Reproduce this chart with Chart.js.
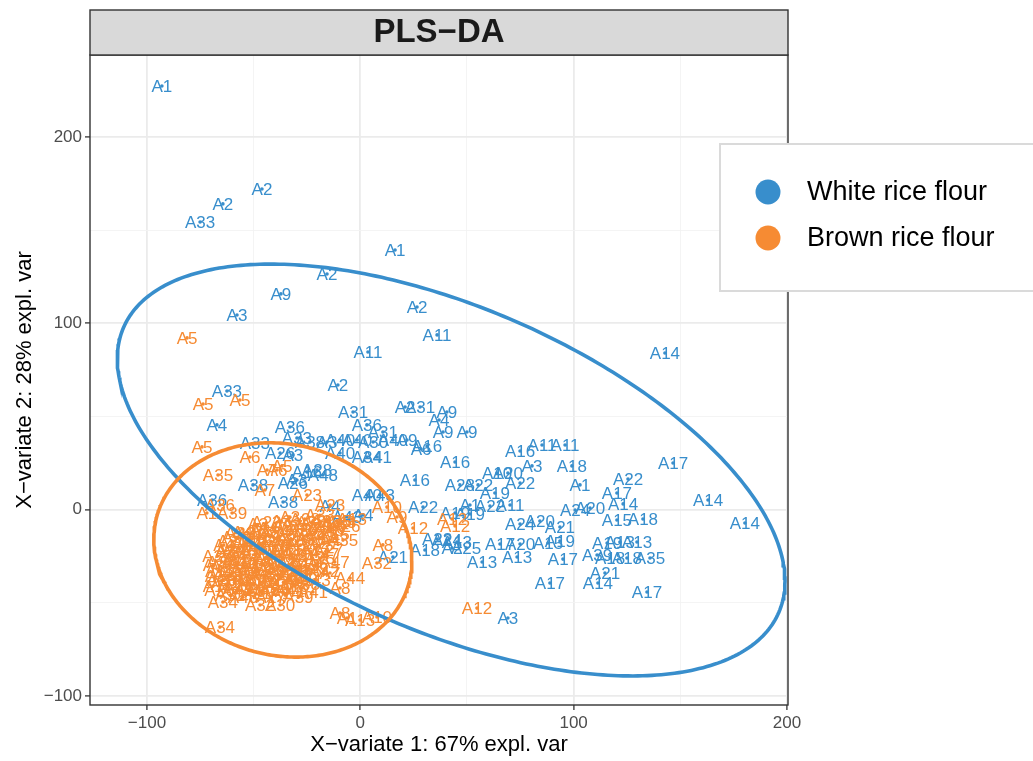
<!DOCTYPE html>
<html>
<head>
<meta charset="utf-8">
<title>PLS-DA</title>
<script src="https://cdn.jsdelivr.net/npm/chart.js@4.4.1/dist/chart.umd.min.js"></script>
<style>
  html, body { margin: 0; padding: 0; background: #ffffff; }
  #wrap { width: 1033px; height: 761px; }
</style>
</head>
<body>
<div id="wrap"><canvas id="plsda" width="1033" height="761"></canvas></div>
<script>
// Sample scores on the first two PLS-DA components
const whiteNames = ['A1','A2','A2','A33','A1','A2','A9','A2','A3','A11','A11','A14','A33','A2','A31','A2','A31','A9','A4','A9','A9','A16','A6','A16','A16','A11','A11','A3','A18','A17','A16','A28','A22','A10','A20','A22','A19','A1','A22','A17','A14','A14','A14','A15','A18','A20','A24','A11','A1','A22','A22','A19','A19','A24','A20','A21','A13','A25','A2','A13','A13','A17','A20','A15','A19','A17','A39','A18','A13','A19','A13','A35','A18','A21','A14','A17','A17','A3','A21','A18','A22','A24','A4','A33','A36','A36','A31','A33','A38','A3','A40','A40','A30','A40','A9','A26','A3','A40','A34','A41','A38','A16','A28','A48','A3','A26','A38','A40','A43','A36','A43','A4','A4'];
const whiteX = [-93.0,-46.1,-64.4,-75.1,16.3,-15.6,-37.2,26.6,-57.8,36.0,3.6,142.8,-62.5,-10.5,-3.4,21.0,28.0,40.6,36.9,38.8,50.0,31.3,28.5,44.4,74.9,85.2,96.0,80.5,99.2,146.6,25.6,46.7,55.2,64.1,69.2,74.9,63.1,103.0,125.5,120.3,123.2,163.0,180.3,120.3,132.5,107.7,100.7,70.2,51.4,60.8,29.4,44.4,51.4,74.9,84.2,93.6,45.3,49.6,43.0,57.1,73.5,65.5,74.9,88.0,93.6,95.0,111.0,117.1,121.7,115.7,129.7,135.8,125.0,114.7,111.4,88.9,134.4,69.2,15.3,30.3,36.0,40.6,-67.2,-49.4,-33.0,3.1,10.6,-29.7,-23.6,-15.6,-9.5,-1.5,6.0,15.3,21.9,-37.6,-31.6,-9.5,3.1,7.8,-50.3,-25.0,-20.3,-17.5,-29.7,-31.6,-36.2,3.1,9.2,-69.5,-6.2,1.3,-14.2];
const whiteY = [227.4,172.1,164.1,154.4,139.4,126.5,115.8,108.8,104.5,93.8,84.6,84.1,63.7,66.9,52.4,55.1,55.1,52.4,48.1,41.7,41.7,34.2,32.6,25.6,31.5,34.7,34.7,23.5,23.5,25.1,15.9,13.3,13.3,19.7,19.7,14.3,9.0,13.3,16.5,9.0,3.1,5.2,-7.1,-5.5,-5.0,0.9,-0.2,2.5,2.5,2.0,1.4,-1.8,-2.3,-7.7,-6.1,-9.3,-17.3,-20.6,-20.6,-28.1,-25.4,-18.4,-18.4,-17.9,-16.8,-26.5,-24.3,-25.9,-17.3,-17.9,-17.3,-25.9,-25.9,-34.0,-39.3,-39.3,-44.2,-58.1,-25.4,-21.6,-15.7,-16.3,45.5,35.8,44.4,45.5,41.7,38.5,36.3,36.3,37.4,37.4,36.3,37.4,37.4,30.4,29.4,30.4,28.3,28.3,13.3,20.2,21.3,18.6,15.9,14.3,4.1,7.9,7.9,5.2,-3.9,-2.8,2.0];

const brownNames = ['A5','A5','A5','A5','A6','A35','A7','A6','A5','A7','A23','A23','A36','A39','A1','A10','A9','A12','A12','A12','A8','A32','A12','A35','A4','A7','A44','A8','A41','A30','A32','A34','A8','A1','A13','A10','A34','A39',
  'A3','A28','A33','A25','A13',
  'A3','A42','A27','A29','A24','A46','A26',
  'A39','A40','A19','A22','A31','A37','A43','A15',
  'A4','A2','A45','A16','A20','A11','A38','A17','A27',
  'A37','A33','A14','A21','A9','A47','A48','A15','A25','A47',
  'A3','A18','A26','A1','A40','A24','A6','A45','A36','A42',
  'A2','A29','A19','A44','A13','A31','A11','A46','A43',
  'A1','A22','A41','A20','A28','A16','A18','A38',
  'A32','A48','A21','A17','A14','A39',
  'A23','A3','A28','A38','A33','A43',
  'A45','A2','A24','A37','A30','A3','A48',
  'A21','A44','A12','A26','A4','A19','A16','A27',
  'A3','A35','A9','A31','A42','A13','A25','A7','A47',
  'A33','A1','A41','A18','A38','A22','A30','A15','A5',
  'A11','A36','A39','A24','A29','A17','A40','A46',
  'A20','A14','A43','A32','A2','A34','A45',
  'A26','A47','A10','A30','A28','A41'];
const brownX = [-81.2,-73.7,-56.4,-74.2,-51.7,-66.7,-43.7,-39.0,-36.7,-44.7,-25.0,-14.2,-65.8,-60.1,-71.9,12.5,17.2,24.7,44.4,43.0,10.6,7.8,54.7,-8.1,-14.2,-14.2,-4.8,-9.5,-22.2,-37.6,-47.0,-64.4,-9.5,-6.2,-0.1,7.8,-65.8,-56.4,
  -33,-26,-19,-11,-4,
  -48,-41,-34,-27,-21,-14,-7,
  -58,-51,-45,-38,-32,-25,-19,-12,
  -64,-57,-51,-46,-40,-34,-28,-21,-15,
  -67,-61,-55,-49,-44,-38,-32,-26,-19,-12,
  -69,-63,-58,-52,-46,-41,-35,-29,-22,-17,
  -68,-62,-56,-50,-45,-39,-33,-27,-21,
  -69,-63,-57,-51,-45,-39,-31,-26,
  -61,-55,-49,-42,-35,-29,
  -44,-37,-30,-23,-16,-9,
  -53,-47,-40,-33,-27,-21,-15,
  -60,-53,-48,-42,-36,-30,-23,-17,
  -63,-58,-52,-46,-41,-35,-29,-23,-17,
  -65,-60,-55,-49,-43,-38,-32,-26,-20,
  -66,-60,-54,-48,-42,-37,-31,-25,
  -65,-59,-53,-47,-42,-36,-29,
  -66,-58,-52,-47,-40,-33];
const brownY = [92.2,56.7,58.9,33.7,28.3,18.6,21.3,21.3,23.5,10.6,7.9,2.5,2.5,-1.8,-1.8,1.4,-3.9,-9.8,-8.7,-5.0,-18.9,-28.6,-52.8,-16.3,-16.3,-34.0,-36.7,-42.0,-44.2,-51.1,-51.1,-49.5,-55.4,-58.1,-59.2,-57.6,-63.0,-12.5,
  -4,-5,-3,-6,-5,
  -8,-10,-9,-11,-8,-10,-9,
  -15,-13,-15,-14,-16,-14,-15,-13,
  -19,-21,-18,-20,-19,-21,-19,-21,-22,
  -25,-23,-26,-24,-26,-24,-25,-27,-26,-28,
  -30,-31,-29,-31,-29,-32,-30,-32,-30,-33,
  -36,-35,-37,-34,-36,-35,-37,-35,-38,
  -41,-40,-42,-40,-42,-40,-41,-40,
  -46,-47,-45,-47,-45,-47,
  -7,-6,-8,-7,-6,-7,
  -12,-11,-12,-13,-11,-12,-11,
  -17,-18,-16,-17,-18,-17,-16,-18,
  -22,-23,-22,-21,-23,-22,-24,-23,-24,
  -28,-27,-29,-28,-27,-28,-29,-30,-29,
  -33,-34,-33,-32,-34,-33,-34,-33,
  -38,-39,-38,-39,-38,-39,-38,
  -43,-44,-43,-44,-43,-44];

// Confidence ellipses: centre x, centre y, half-width, half-height, correlation
const whiteEllipse = [42.6, 21.3, 156.5, 110.5, -0.54];
const brownEllipse = [-36.3, -21.6, 60.5, 57.5, -0.10];

const tickValues = [-100, -50, 0, 50, 100, 150, 200];
const groupNames = ['White rice flour', 'Brown rice flour'];

const BLUE = '#388ECC';
const ORANGE = '#F68B33';
const FONT = '"Liberation Sans", Arial, Helvetica, sans-serif';

function toPoints(xs, ys) { return xs.map((x, i) => ({ x: x, y: ys[i] })); }

function ellipsePath(p) {
  const [cx, cy, rx, ry, rho] = p;
  const s = Math.sqrt(1 - rho * rho);
  const out = [];
  for (let k = 0; k <= 360; k++) {
    const t = 2 * Math.PI * k / 360;
    out.push({ x: cx + rx * Math.cos(t), y: cy + ry * (rho * Math.cos(t) + s * Math.sin(t)) });
  }
  return out;
}

const isMajor = v => Math.abs(v % 100) < 1e-9;
const fmt = v => (v < 0 ? '\u2212' + Math.abs(v) : String(v));

// Sample names written at each score
const sampleLabels = {
  id: 'sampleLabels',
  afterDatasetDraw(chart, args) {
    const ds = chart.data.datasets[args.index];
    if (!ds.names) return;
    const ctx = chart.ctx;
    ctx.save();
    ctx.font = '17px ' + FONT;
    ctx.textAlign = 'center';
    ctx.textBaseline = 'middle';
    ctx.fillStyle = ds.borderColor;
    args.meta.data.forEach((el, i) => ctx.fillText(ds.names[i], el.x, el.y + 1));
    ctx.restore();
  }
};

// Panel frame, title strip, axis titles and legend
const decorations = {
  id: 'decorations',
  afterDraw(chart) {
    const ctx = chart.ctx;
    const a = chart.chartArea;
    ctx.save();
    ctx.strokeStyle = '#333333';
    ctx.lineWidth = 1.4;
    ctx.strokeRect(a.left, a.top, a.right - a.left, a.bottom - a.top);

    ctx.fillStyle = '#D9D9D9';
    ctx.fillRect(a.left, 10, a.right - a.left, a.top - 10);
    ctx.strokeRect(a.left, 10, a.right - a.left, a.top - 10);
    ctx.fillStyle = '#1A1A1A';
    ctx.font = 'bold 33px ' + FONT;
    ctx.textAlign = 'center';
    ctx.textBaseline = 'middle';
    ctx.fillText('PLS\u2212DA', (a.left + a.right) / 2, 33);

    ctx.fillStyle = '#000000';
    ctx.font = '22px ' + FONT;
    ctx.fillText('X\u2212variate 1: 67% expl. var', (a.left + a.right) / 2, 745);
    ctx.save();
    ctx.translate(25, (a.top + a.bottom) / 2);
    ctx.rotate(-Math.PI / 2);
    ctx.fillText('X\u2212variate 2: 28% expl. var', 0, 0);
    ctx.restore();

    // legend
    ctx.fillStyle = '#FFFFFF';
    ctx.fillRect(720, 144, 330, 147);
    ctx.strokeStyle = '#DADADA';
    ctx.lineWidth = 2;
    ctx.strokeRect(720, 144, 330, 147);
    const colors = [BLUE, ORANGE];
    const rows = [192, 238];
    ctx.font = '27px ' + FONT;
    ctx.textAlign = 'left';
    groupNames.forEach((name, i) => {
      ctx.fillStyle = colors[i];
      ctx.beginPath();
      ctx.arc(768, rows[i], 12.5, 0, 2 * Math.PI);
      ctx.fill();
      ctx.fillStyle = '#000000';
      ctx.fillText(name, 807, rows[i] + 1);
    });
    ctx.restore();
  }
};

function axisOptions(min, max, fitFn) {
  return {
    type: 'linear',
    min: min,
    max: max,
    afterBuildTicks: s => { s.ticks = tickValues.map(v => ({ value: v })); },
    afterFit: fitFn,
    border: { display: false },
    grid: {
      color: c => (c.tick && isMajor(c.tick.value) ? '#EBEBEB' : '#F3F3F3'),
      lineWidth: c => (c.tick && isMajor(c.tick.value) ? 1.8 : 0.9),
      drawTicks: true,
      tickLength: 5,
      tickWidth: 1.3,
      tickColor: c => (c.tick && isMajor(c.tick.value) ? '#333333' : 'rgba(0,0,0,0)')
    },
    ticks: {
      autoSkip: false,
      maxRotation: 0,
      padding: 3,
      color: '#4D4D4D',
      font: { family: FONT, size: 17 },
      callback: v => (isMajor(v) ? fmt(v) : '')
    }
  };
}

new Chart(document.getElementById('plsda'), {
  type: 'scatter',
  data: {
    datasets: [
      { label: groupNames[0], data: toPoints(whiteX, whiteY), names: whiteNames,
        backgroundColor: BLUE, borderColor: BLUE, pointRadius: 1.8, borderWidth: 0, order: 4 },
      { label: groupNames[1], data: toPoints(brownX, brownY), names: brownNames,
        backgroundColor: ORANGE, borderColor: ORANGE, pointRadius: 1.8, borderWidth: 0, order: 3 },
      { label: 'ellipse white', data: ellipsePath(whiteEllipse), showLine: true, fill: false,
        borderColor: BLUE, borderWidth: 3.6, pointRadius: 0, tension: 0, order: 2 },
      { label: 'ellipse brown', data: ellipsePath(brownEllipse), showLine: true, fill: false,
        borderColor: ORANGE, borderWidth: 3.6, pointRadius: 0, tension: 0, order: 1 }
    ]
  },
  options: {
    responsive: false,
    animation: false,
    events: [],
    layout: { padding: { left: 0, right: 245, top: 55, bottom: 0 } },
    plugins: { legend: { display: false }, tooltip: { enabled: false }, title: { display: false } },
    scales: {
      x: axisOptions(-126.7, 200.5, s => { s.height = 56; }),
      y: axisOptions(-104.8, 244, s => { s.width = 90; })
    }
  },
  plugins: [sampleLabels, decorations]
});
</script>
</body>
</html>
